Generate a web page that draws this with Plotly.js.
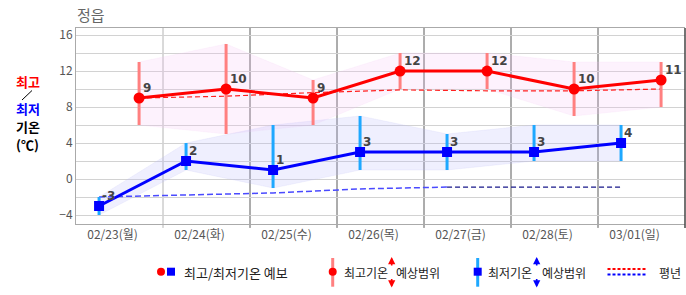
<!DOCTYPE html>
<html>
<head>
<meta charset="utf-8">
<script src="https://cdn.plot.ly/plotly-3.0.1.min.js"></script>
<style>html,body{margin:0;padding:0;background:#fff;}#chart{width:686px;height:295px;}</style>
</head>
<body>
<div id="chart"></div>
<script>
// ---- data ----
const dates = ['02/23(월)','02/24(화)','02/25(수)','02/26(목)','02/27(금)','02/28(토)','03/01(일)'];
const hi = [9, 10, 9, 12, 12, 10, 11];
const hiMin = [6, 5, 6, 10, 10, 7, 8];
const hiMax = [13, 15, 11, 14, 14, 13, 13];
const lo = [-3, 2, 1, 3, 3, 3, 4];
const loMin = [-4, 1, -1, 1, 1, 2, 2];
const loMax = [-2, 4, 6, 7, 5, 6, 6];
const hiNormal = [9.0, 9.2, 9.6, 9.9, 9.8, 9.8, 10.0];
const loNormal = [-2.0, -1.8, -1.55, -1.1, -0.9, -0.9, -0.9];
const yTicks = [-4, 0, 4, 8, 12, 16];

// ---- layout helpers ----
const ML = 76, MR = 1, MT = 28, MB = 71, W = 686, H = 295;
const PW = W - ML - MR, PH = H - MT - MB;
function px(x) { return (x - ML) / PW; }
function py(y) { return (MT + PH - y) / PH; }

const idx = dates.map((d, i) => i);
const hiX = idx.map(i => i + 0.5 + 0.225);
const loX = idx.map(i => i + 0.5 - 0.235);
const tickX = idx.map(i => i + 0.42);

const FONT = '"Noto Sans CJK KR", "Noto Sans", sans-serif';

const traces = [
  // bands
  {x: hiX, y: hiMax, mode: 'lines', line: {width: 0.6, color: 'rgba(240,200,240,0.25)'}, hoverinfo: 'skip', showlegend: false},
  {x: hiX, y: hiMin, mode: 'lines', fill: 'tonexty', fillcolor: 'rgba(245,190,245,0.2)', line: {width: 0.6, color: 'rgba(240,200,240,0.25)'}, hoverinfo: 'skip', showlegend: false},
  {x: loX, y: loMax, mode: 'lines', line: {width: 0.6, color: 'rgba(195,195,245,0.3)'}, hoverinfo: 'skip', showlegend: false},
  {x: loX, y: loMin, mode: 'lines', fill: 'tonexty', fillcolor: 'rgba(180,180,250,0.22)', line: {width: 0.6, color: 'rgba(195,195,245,0.3)'}, hoverinfo: 'skip', showlegend: false},
  // normals
  {x: hiX, y: hiNormal, mode: 'lines', line: {color: '#ff2020', width: 1.2, dash: '5px,3px'}, hoverinfo: 'skip', showlegend: false},
  {x: loX.slice(0, 5), y: loNormal.slice(0, 5), mode: 'lines', line: {color: '#4a4aff', width: 1.5, dash: '6px,3px'}, hoverinfo: 'skip', showlegend: false},
  {x: loX.slice(4), y: loNormal.slice(4), mode: 'lines', line: {color: '#18188a', width: 1.3, dash: '5px,3px'}, hoverinfo: 'skip', showlegend: false},
  // forecasts with range bars
  {x: hiX, y: hi, mode: 'lines+markers',
   line: {color: '#ff0000', width: 3}, marker: {symbol: 'circle', size: 11, color: '#ff0000'},
   error_y: {type: 'data', symmetric: false, array: hi.map((v, i) => hiMax[i] - v), arrayminus: hi.map((v, i) => v - hiMin[i]), color: '#ff8080', thickness: 3, width: 0},
   showlegend: false},
  {x: loX, y: lo, mode: 'lines+markers',
   line: {color: '#0000ff', width: 3}, marker: {symbol: 'square', size: 10, color: '#0000ff'},
   error_y: {type: 'data', symmetric: false, array: lo.map((v, i) => loMax[i] - v), arrayminus: lo.map((v, i) => v - loMin[i]), color: '#1ea8ff', thickness: 3, width: 0},
   showlegend: false}
];

const annotations = [];
hi.forEach((v, i) => annotations.push({x: hiX[i], y: v, text: String(v), showarrow: false, xanchor: 'left', yanchor: 'middle', xshift: 2, yshift: 10, font: {family: '"DejaVu Sans", sans-serif', size: 12, color: '#444', weight: 'bold'}}));
lo.forEach((v, i) => annotations.push({x: loX[i], y: v, text: String(v), showarrow: false, xanchor: 'left', yanchor: 'middle', xshift: 1, yshift: 10, font: {family: '"DejaVu Sans", sans-serif', size: 12, color: '#444', weight: 'bold'}}));

// title
annotations.push({xref: 'paper', yref: 'paper', x: px(75), y: py(15), text: '정읍', showarrow: false, xanchor: 'left', yanchor: 'middle', font: {family: FONT, size: 15, color: '#666'}});
// vertical axis label
const sideLab = [['최고', '#ff0000', 81], ['최저', '#0000ff', 109], ['기온', '#000', 126], ['(℃)', '#000', 144]];
sideLab.forEach(s => annotations.push({xref: 'paper', yref: 'paper', x: px(27.5), y: py(s[2]), text: s[0], showarrow: false, xanchor: 'center', yanchor: 'middle', font: {family: FONT, size: 13, color: s[1], weight: 'bold'}}));

// legend texts
[['최고/최저기온 예보', 182, 13], ['최고기온', 341.5, 12], ['예상범위', 394, 12], ['최저기온', 486, 12], ['예상범위', 539.5, 12], ['평년', 657, 12]].forEach(t =>
  annotations.push({xref: 'paper', yref: 'paper', x: px(t[1]), y: py(272), text: t[0], showarrow: false, xanchor: 'left', yanchor: 'middle', font: {family: FONT, size: t[2], color: '#222'}}));
// legend arrows
[[391.7, '#ff0000'], [536.7, '#0000ff']].forEach(a => {
  annotations.push({xref: 'paper', yref: 'paper', x: px(a[0]), y: py(257), ax: 0, ay: 10, text: '', showarrow: true, arrowhead: 2, arrowsize: 0.9, arrowwidth: 1.6, arrowcolor: a[1]});
  annotations.push({xref: 'paper', yref: 'paper', x: px(a[0]), y: py(287.5), ax: 0, ay: -10, text: '', showarrow: true, arrowhead: 2, arrowsize: 0.9, arrowwidth: 1.6, arrowcolor: a[1]});
});

const shapes = [];
// day separators
for (let i = 1; i < dates.length; i++) {
  const c = i === 1 ? '#b4b4b4' : '#5a5a5a';
  shapes.push({type: 'line', xref: 'x', yref: 'paper', x0: i, x1: i, y0: -0.02, y1: 1, line: {color: c, width: 1}, layer: 'below'});
}
shapes.push({type: 'line', xref: 'paper', yref: 'paper', x0: 1, x1: 1, y0: -0.02, y1: 1, line: {color: '#444', width: 1.5}, layer: 'above'});
// side label slash
shapes.push({type: 'line', xref: 'paper', yref: 'paper', x0: px(22), y0: py(100), x1: px(32), y1: py(90.5), line: {color: '#000', width: 1}});
// legend markers
function dot(x, y, r, col, sq) {
  shapes.push({type: sq ? 'rect' : 'circle', xref: 'paper', yref: 'paper', xsizemode: 'pixel', ysizemode: 'pixel', xanchor: px(x), yanchor: py(y), x0: -r, x1: r, y0: -r, y1: r, fillcolor: col, line: {width: 0}});
}
shapes.push({type: 'line', xref: 'paper', yref: 'paper', x0: px(332.7), x1: px(332.7), y0: py(258), y1: py(286.7), line: {color: '#ff8080', width: 3}});
shapes.push({type: 'line', xref: 'paper', yref: 'paper', x0: px(477.7), x1: px(477.7), y0: py(258), y1: py(286.7), line: {color: '#1ea8ff', width: 3}});
dot(161, 271.7, 4, '#ff0000', false);
dot(171, 271.7, 4, '#0000ff', true);
dot(332.7, 271.7, 4, '#ff0000', false);
dot(477.7, 271.7, 4, '#0000ff', true);
shapes.push({type: 'line', xref: 'paper', yref: 'paper', x0: px(607.5), x1: px(647), y0: py(269), y1: py(269), line: {color: '#ff0000', width: 2, dash: '3px,2px'}});
shapes.push({type: 'line', xref: 'paper', yref: 'paper', x0: px(607.5), x1: px(647), y0: py(274.5), y1: py(274.5), line: {color: '#0000ff', width: 2, dash: '3px,2px'}});

const layout = {
  width: W, height: H,
  margin: {l: ML, r: MR, t: MT, b: MB, pad: 0},
  paper_bgcolor: '#fff', plot_bgcolor: '#fff',
  showlegend: false,
  xaxis: {range: [0, dates.length], tickvals: tickX, ticktext: dates, showgrid: false, zeroline: false,
          showline: true, linecolor: '#aaa', linewidth: 1, mirror: true, ticks: '',
          tickfont: {family: FONT, size: 12, color: '#555'}, fixedrange: true},
  yaxis: {range: [-5, 16.78], tickvals: yTicks, showgrid: true, gridcolor: '#d2d2d2', gridwidth: 1,
          minor: {dtick: 2, tick0: 0, showgrid: true, gridcolor: '#d2d2d2', gridwidth: 1},
          zeroline: false, showline: true, linecolor: '#aaa', linewidth: 1, ticks: '',
          tickfont: {family: FONT, size: 12, color: '#555'}, fixedrange: true},
  annotations: annotations,
  shapes: shapes
};

Plotly.newPlot('chart', traces, layout, {displayModeBar: false, staticPlot: true});
</script>
</body>
</html>
